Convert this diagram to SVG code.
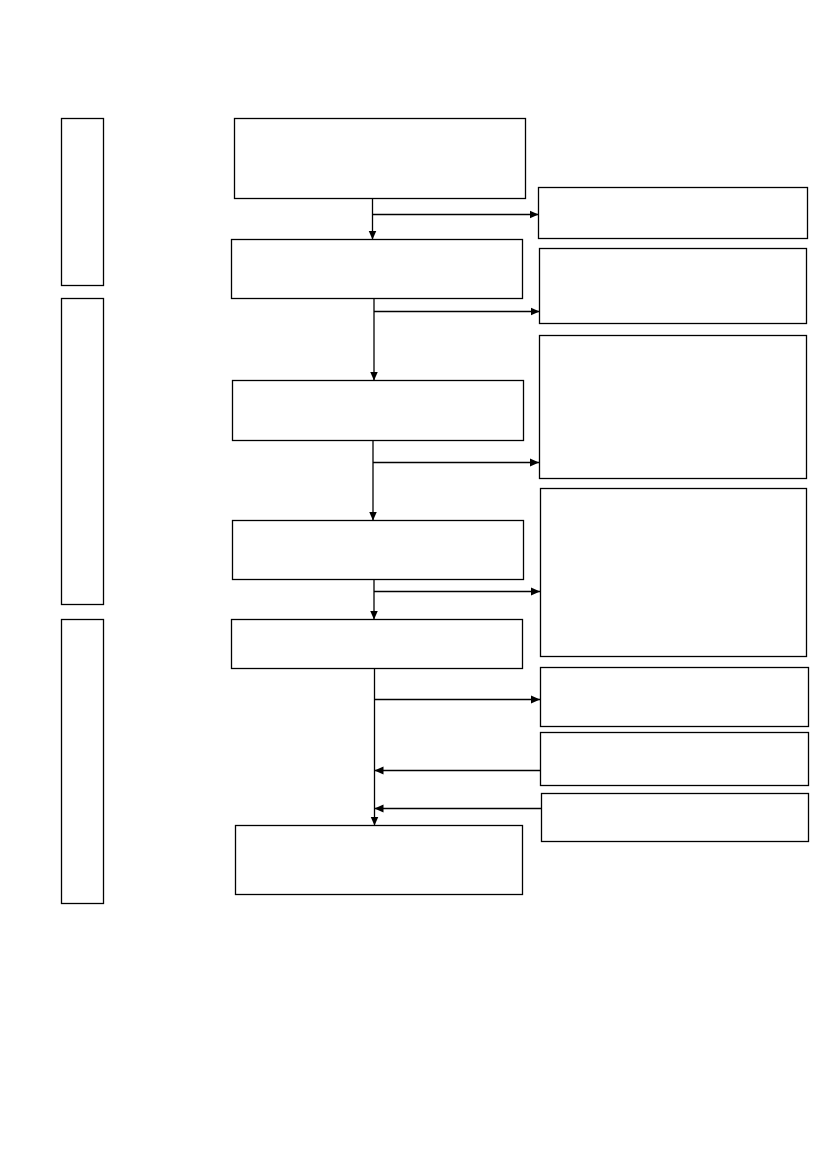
<svg xmlns="http://www.w3.org/2000/svg" width="827" height="1169" viewBox="0 0 827 1169">
<style>
.box{fill:#fff;stroke:#000;stroke-width:1.3}
.ln{fill:none;stroke:#000;stroke-width:1.3}
</style>
<defs>
<marker id="ah" markerUnits="userSpaceOnUse" markerWidth="10" markerHeight="10" viewBox="0 0 10 10" refX="9" refY="5" orient="auto">
<path d="M0,1 L9,5 L0,9 Z" fill="#000"/>
</marker>
</defs>
<rect width="827" height="1169" fill="#fff"/>
<g id="phase1"><rect class="box" x="61.5" y="118.5" width="42" height="167"/></g>
<g id="phase2"><rect class="box" x="61.5" y="298.5" width="42" height="306"/></g>
<g id="phase3"><rect class="box" x="61.5" y="619.5" width="42" height="284"/></g>
<g id="step1"><rect class="box" x="234.5" y="118.5" width="291" height="80"/></g>
<g id="step2"><rect class="box" x="231.5" y="239.5" width="291" height="59"/></g>
<g id="step3"><rect class="box" x="232.5" y="380.5" width="291" height="60"/></g>
<g id="step4"><rect class="box" x="232.5" y="520.5" width="291" height="59"/></g>
<g id="step5"><rect class="box" x="231.5" y="619.5" width="291" height="49"/></g>
<g id="step6"><rect class="box" x="235.5" y="825.5" width="287" height="69"/></g>
<g id="side1"><rect class="box" x="538.5" y="187.5" width="269" height="51"/></g>
<g id="side2"><rect class="box" x="539.5" y="248.5" width="267" height="75"/></g>
<g id="side3"><rect class="box" x="539.5" y="335.5" width="267" height="143"/></g>
<g id="side4"><rect class="box" x="540.5" y="488.5" width="266" height="168"/></g>
<g id="side5"><rect class="box" x="540.5" y="667.5" width="268" height="59"/></g>
<g id="side6"><rect class="box" x="540.5" y="732.5" width="268" height="53"/></g>
<g id="side7"><rect class="box" x="541.5" y="793.5" width="267" height="48"/></g>
<g id="connectors">
<line class="ln" x1="372.5" y1="198.5" x2="372.5" y2="239.5" marker-end="url(#ah)"/>
<line class="ln" x1="372.5" y1="214.5" x2="538.5" y2="214.5" marker-end="url(#ah)"/>
<line class="ln" x1="374" y1="298.5" x2="374" y2="380.5" marker-end="url(#ah)"/>
<line class="ln" x1="374" y1="311.5" x2="539.5" y2="311.5" marker-end="url(#ah)"/>
<line class="ln" x1="373" y1="440.5" x2="373" y2="520.5" marker-end="url(#ah)"/>
<line class="ln" x1="373" y1="462.5" x2="539" y2="462.5" marker-end="url(#ah)"/>
<line class="ln" x1="374" y1="579.5" x2="374" y2="619.5" marker-end="url(#ah)"/>
<line class="ln" x1="374" y1="591.5" x2="540" y2="591.5" marker-end="url(#ah)"/>
<line class="ln" x1="374.5" y1="668.5" x2="374.5" y2="825.5" marker-end="url(#ah)"/>
<line class="ln" x1="374.5" y1="699.5" x2="540" y2="699.5" marker-end="url(#ah)"/>
<line class="ln" x1="540.5" y1="770.5" x2="374.5" y2="770.5" marker-end="url(#ah)"/>
<line class="ln" x1="541.5" y1="808.5" x2="374.5" y2="808.5" marker-end="url(#ah)"/>
</g>
</svg>
